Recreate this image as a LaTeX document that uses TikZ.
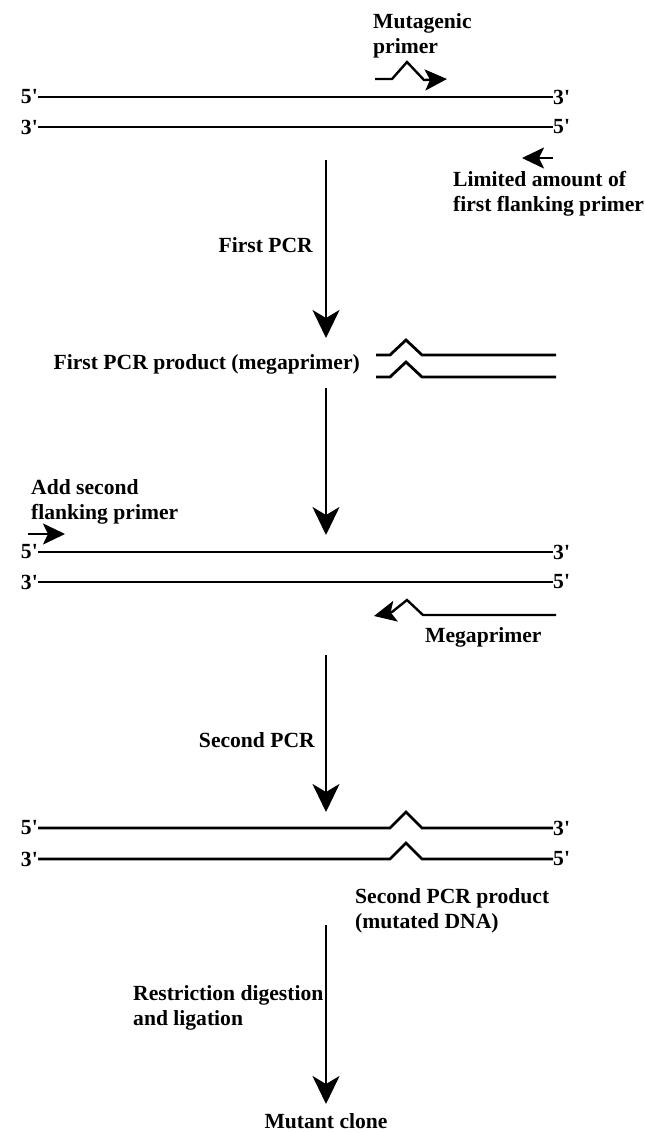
\documentclass[tikz,border=0pt]{standalone}
\usepackage{fontspec}
\setmainfont{Liberation Serif}
\usetikzlibrary{arrows.meta}

\newcommand{\prm}{\textquotesingle}

\tikzset{
  lbl/.style={font=\fontsize{21.6}{25}\selectfont\bfseries, inner sep=0pt, align=left},
  strand/.style={line width=2.8pt, line join=miter},
  flow/.style={line width=2.4pt, -{Stealth[length=28pt, width=27pt, inset=8pt]}},
  primer/.style={line width=2.4pt, line join=miter, -{Stealth[length=22pt, width=21pt, inset=5pt]}}
}

\begin{document}
\begin{tikzpicture}[x=1pt, y=-1pt]
  \useasboundingbox (0,0) rectangle (645,1133);

  % template
  \node[lbl, anchor=east] (tpl5a) at (38,97)  {5\prm};
  \node[lbl, anchor=west] (tpl3a) at (553,97) {3\prm};
  \node[lbl, anchor=east] (tpl3b) at (38,127) {3\prm};
  \node[lbl, anchor=west] (tpl5b) at (553,127) {5\prm};
  \draw[strand] (tpl5a.east) -- (tpl3a.west);
  \draw[strand] (tpl3b.east) -- (tpl5b.west);

  \node[lbl, anchor=north west] (mutlbl) at (373,13) {Mutagenic\\primer};
  \draw[primer] (375,79) -- (392,79) -- (407,62) -- (424,80) -- (447,79);

  \draw[primer] (553,158) -- (522,158);
  \node[lbl, anchor=north west] (flank1) at (453,171) {Limited amount of\\first flanking primer};

  % first PCR
  \coordinate (s1) at (326,160);
  \coordinate (e1) at (326,338);
  \draw[flow] (s1) -- (e1);
  \node[lbl, anchor=base east] (pcr1) at (313,252) {First PCR};
  \node[lbl, anchor=base east] (prod1) at (360,369) {First PCR product (megaprimer)};

  % megaprimer
  \draw[strand] (376,355) -- (390,355) -- (406,340) -- (422,355) -- (556,355);
  \draw[strand] (376,377) -- (390,377) -- (406,362) -- (422,377) -- (556,377);

  \coordinate (s2) at (326,388);
  \coordinate (e2) at (326,535);
  \draw[flow] (s2) -- (e2);

  % second template
  \node[lbl, anchor=north west] (flank2) at (31,479) {Add second\\flanking primer};
  \draw[primer] (28,534) -- (65,534);
  \node[lbl, anchor=east] (mid5a) at (38,552) {5\prm};
  \node[lbl, anchor=west] (mid3a) at (553,552) {3\prm};
  \node[lbl, anchor=east] (mid3b) at (38,582) {3\prm};
  \node[lbl, anchor=west] (mid5b) at (553,582) {5\prm};
  \draw[strand] (mid5a.east) -- (mid3a.west);
  \draw[strand] (mid3b.east) -- (mid5b.west);

  \draw[primer] (556,615) -- (423,615) -- (407,600) -- (392,612) -- (374,616);
  \node[lbl, anchor=base west] (mega) at (425,642) {Megaprimer};

  % second PCR
  \coordinate (s3) at (326,655);
  \coordinate (e3) at (326,812);
  \draw[flow] (s3) -- (e3);
  \node[lbl, anchor=base east] (pcr2) at (315,747) {Second PCR};

  % mutated product
  \node[lbl, anchor=east] (out5a) at (38,828) {5\prm};
  \node[lbl, anchor=west] (out3a) at (553,828) {3\prm};
  \node[lbl, anchor=east] (out3b) at (38,859) {3\prm};
  \node[lbl, anchor=west] (out5b) at (553,859) {5\prm};
  \draw[strand] (out5a.east) -- (390,828) -- (406,812) -- (422,828) -- (out3a.west);
  \draw[strand] (out3b.east) -- (390,859) -- (406,843) -- (422,859) -- (out5b.west);
  \node[lbl, anchor=north west] (prod2) at (355,888) {Second PCR product\\(mutated DNA)};

  % cloning
  \coordinate (s4) at (326,925);
  \coordinate (e4) at (326,1104);
  \draw[flow] (s4) -- (e4);
  \node[lbl, anchor=north west] (clon) at (133,985) {Restriction digestion\\and ligation};
  \node[lbl, anchor=base] (clone) at (326,1128) {Mutant clone};
\end{tikzpicture}
\end{document}
